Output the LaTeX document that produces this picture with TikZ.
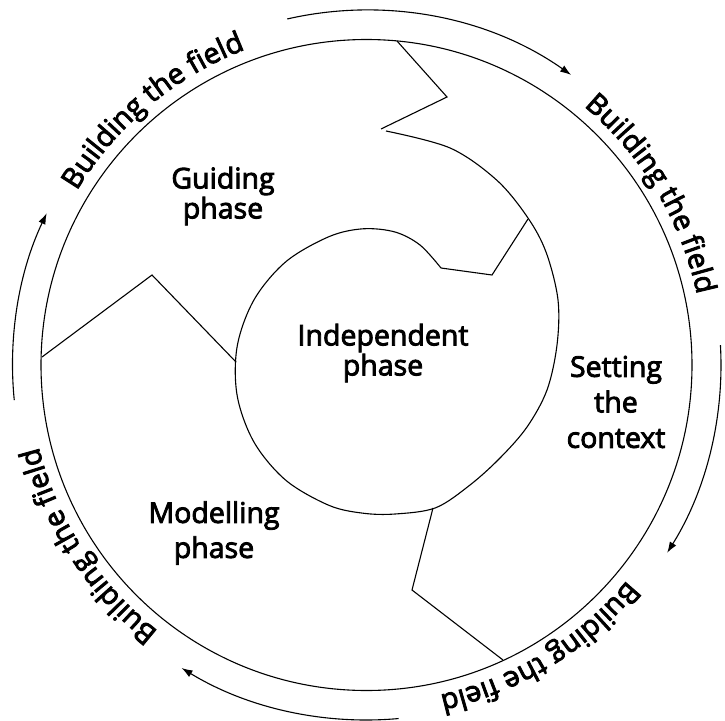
\documentclass[tikz,border=0pt]{standalone}
\usepackage{fontspec}
\setmainfont{Open Sans}[RawFeature={embolden=3}]
\usetikzlibrary{decorations.text,arrows.meta}
\newcommand\curvefont{\fontsize{28.5}{30}\selectfont}
\begin{document}
\begin{tikzpicture}[x=1pt,y=-1pt,line width=1.1pt,line join=miter,
  lab/.style={align=center,inner sep=0pt},
  arr/.style={-{Latex[length=11pt,width=7.5pt]}},
  curvelabel/.style={decorate,decoration={text along path,text align=center,text={|\curvefont|#1}}}]
\useasboundingbox (0,0) rectangle (725,720);
\fill[white] (0,0) rectangle (725,720);
% outer circle
\coordinate (O) at (366.5,365);
\draw (O) circle[radius=325.5];
% spiral (inner phase boundary)
\draw plot[smooth,tension=0.55] coordinates {(386,131) (450.1,148) (496.8,180.2) (528,218) (546.3,252.8) (558,299.9) (557,345) (547,390) (527,427) (500,458) (470,485) (435.6,507.8) (395,514) (363.1,513.2) (329.1,505.4) (286.1,480.5) (254.2,442.5) (237.2,395.8) (237.2,346.2) (254.2,299.5) (286.1,261.5) (329.1,236.6) (363.1,228.8) (395,232) (420,245) (441,268)};
% zigzag separators
\coordinate (l1) at (42,357);  \coordinate (l2) at (152,275); \coordinate (l3) at (236,362);
\coordinate (t1) at (397,41);  \coordinate (t2) at (447,97);  \coordinate (t3) at (381,129);
\coordinate (n1) at (441,268); \coordinate (n2) at (492,275); \coordinate (n3) at (528,219);
\coordinate (b1) at (433,508); \coordinate (b2) at (412,590); \coordinate (b3) at (503,660);
\draw (l1) -- (l2) -- (l3);
\draw (t1) -- (t2) -- (t3);
\draw (n1) -- (n2) -- (n3);
\draw (b1) -- (b2) -- (b3);
% phase labels
\node[lab,font=\fontsize{28.5}{30}\selectfont] (guide) at (223,196) {Guiding\\phase};
\node[lab,font=\fontsize{28.5}{30}\selectfont] (indep) at (383,353) {Independent\\phase};
\node[lab,font=\fontsize{28.5}{35.5}\selectfont] (ctx) at (616,402) {Setting\\the\\context};
\node[lab,font=\fontsize{28.5}{35}\selectfont] (model) at (214,533) {Modelling\\phase};
% outer cycle
\begin{scope}[shift={(366.5,365)},y=1pt]
\path[curvelabel={Building the field}] (155:338) arc[start angle=155,end angle=105,radius=338];
\path[curvelabel={Building the field}] (56:338) arc[start angle=56,end angle=6,radius=338];
\path[curvelabel={Building the field}] (-33.5:338) arc[start angle=-33.5,end angle=-83.5,radius=338];
\path[curvelabel={Building the field}] (-122:338) arc[start angle=-122,end angle=-172,radius=338];
\draw[arr] (102.9:355) arc[start angle=102.9,end angle=54.8,radius=355];
\draw[arr] (3.2:354.5) arc[start angle=3.2,end angle=-32,radius=354.5];
\draw[arr] (-84.8:355) arc[start angle=-84.8,end angle=-121.4,radius=355];
\draw[arr] (185.7:354) arc[start angle=185.7,end angle=154.6,radius=354];
\end{scope}
\end{tikzpicture}
\end{document}
